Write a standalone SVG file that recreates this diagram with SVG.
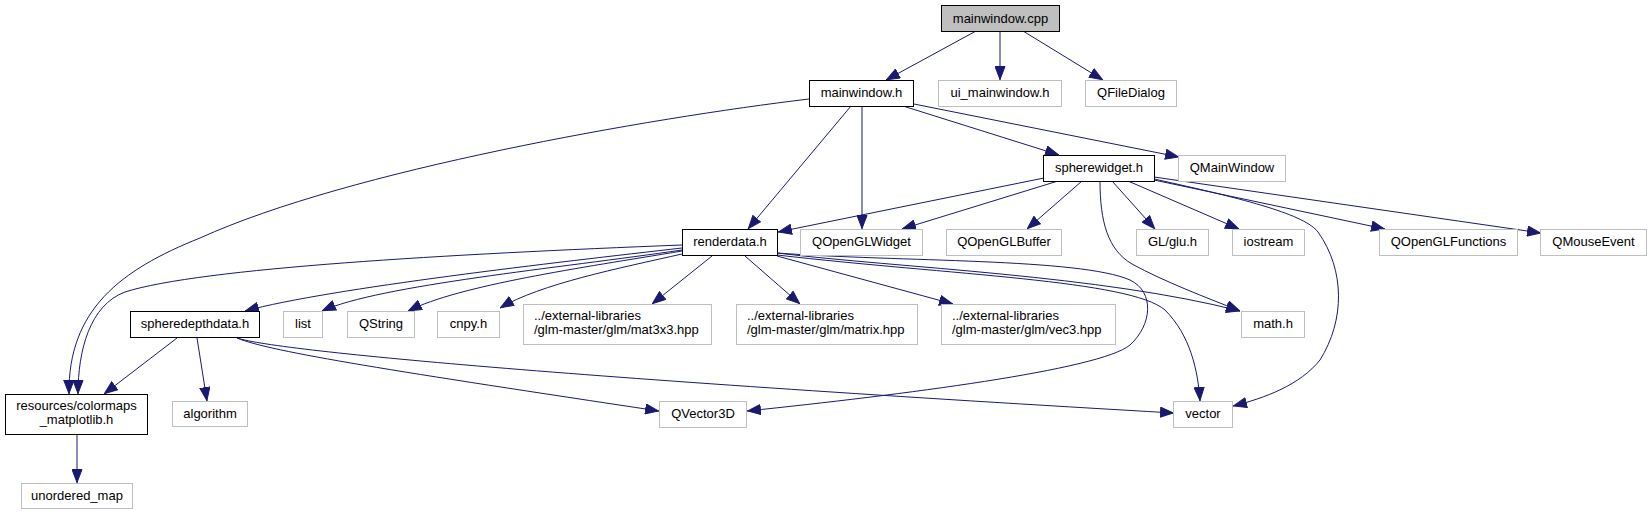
<svg xmlns="http://www.w3.org/2000/svg" width="1652" height="515" viewBox="0 0 1652 515">
<style>
.n rect{fill:#ffffff;stroke:#000000;stroke-width:1}
.n.ext rect{stroke:#bfbfbf}
.n.root rect{fill:#bfbfbf}
.n text{font-family:"Liberation Sans",Arial,Helvetica,sans-serif;font-size:13px;fill:#000000}
.c{text-anchor:middle}
#edges path{fill:none;stroke:#191970;stroke-width:1;marker-end:url(#ah)}
</style>
<defs>
<marker id="ah" markerUnits="userSpaceOnUse" viewBox="0 0 14 11" markerWidth="14" markerHeight="11" refX="14" refY="5.5" orient="auto">
<path d="M0.5,0.5 L13.5,5.5 L0.5,10.5 z" fill="#191970" stroke="#191970" stroke-width="1"/>
</marker>
</defs>
<rect width="1652" height="515" fill="#ffffff"/>
<g id="edges">
<path d="M976,31 L886,80"/>
<path d="M1000,31 L1000,80"/>
<path d="M1023,31 L1103,80"/>
<path d="M809,99 C650,118 350,170 200,238 C120,270 68,310 69,394"/>
<path d="M851,106 L748,229"/>
<path d="M862,106 L862,229"/>
<path d="M903,106 L1059,155"/>
<path d="M914,104 L1179,157"/>
<path d="M1044,178 L778,232"/>
<path d="M1058,181 L902,229"/>
<path d="M1082,181 L1027,229"/>
<path d="M1112,181 L1155,229"/>
<path d="M1128,181 L1239,229"/>
<path d="M1100,181 C1100,222 1108,250 1132,264 C1165,282 1205,297 1240,311"/>
<path d="M1154,179 C1250,200 1305,215 1318,232 C1345,270 1345,320 1320,360 C1300,385 1265,398 1233,406"/>
<path d="M1154,180 L1385,229"/>
<path d="M1154,177 L1541,233"/>
<path d="M682,248 C560,262 330,288 245,311"/>
<path d="M682,250 C560,268 380,285 322,311"/>
<path d="M682,251 C580,268 460,285 408,311"/>
<path d="M682,254 C620,268 540,284 500,308"/>
<path d="M682,245 C450,254 200,268 125,292 C90,305 78,350 78,394"/>
<path d="M712,256 L652,304"/>
<path d="M745,256 L800,304"/>
<path d="M777,256 L953,304"/>
<path d="M777,253 C900,268 1100,275 1240,311"/>
<path d="M777,255 C950,275 1130,280 1165,310 C1190,335 1198,370 1200,401"/>
<path d="M777,253 C900,262 1080,258 1130,280 C1155,292 1152,325 1130,345 C1100,370 900,395 747,411"/>
<path d="M177,338 L104,394"/>
<path d="M197,338 L207,401"/>
<path d="M237,338 C270,352 400,372 659,411"/>
<path d="M237,338 C280,352 600,380 1174,413"/>
<path d="M77,434 L77,483"/>
</g>
<g id="node_mainwindow_cpp" class="n root"><rect x="941.5" y="5.5" width="118" height="26"/><text class="c" x="1000.5" y="23">mainwindow.cpp</text></g>
<g id="node_mainwindow_h" class="n"><rect x="809.5" y="80.5" width="104" height="26"/><text class="c" x="861.5" y="97">mainwindow.h</text></g>
<g id="node_ui_mainwindow_h" class="n ext"><rect x="938.5" y="80.5" width="123" height="26"/><text class="c" x="1000" y="97">ui_mainwindow.h</text></g>
<g id="node_QFileDialog" class="n ext"><rect x="1085.5" y="80.5" width="91" height="26"/><text class="c" x="1131" y="97">QFileDialog</text></g>
<g id="node_spherewidget_h" class="n"><rect x="1043.5" y="155.5" width="111" height="26"/><text class="c" x="1099" y="172">spherewidget.h</text></g>
<g id="node_QMainWindow" class="n ext"><rect x="1178.5" y="155.5" width="107" height="26"/><text class="c" x="1232" y="172">QMainWindow</text></g>
<g id="node_renderdata_h" class="n"><rect x="682.5" y="229.5" width="95" height="26"/><text class="c" x="730" y="246">renderdata.h</text></g>
<g id="node_QOpenGLWidget" class="n ext"><rect x="800.5" y="229.5" width="122" height="26"/><text class="c" x="861.5" y="246">QOpenGLWidget</text></g>
<g id="node_QOpenGLBuffer" class="n ext"><rect x="946.5" y="229.5" width="115" height="26"/><text class="c" x="1004" y="246">QOpenGLBuffer</text></g>
<g id="node_GL_glu_h" class="n ext"><rect x="1136.5" y="229.5" width="72" height="26"/><text class="c" x="1172.5" y="246">GL/glu.h</text></g>
<g id="node_iostream" class="n ext"><rect x="1232.5" y="229.5" width="72" height="26"/><text class="c" x="1268.5" y="246">iostream</text></g>
<g id="node_QOpenGLFunctions" class="n ext"><rect x="1379.5" y="229.5" width="138" height="26"/><text class="c" x="1448.5" y="246">QOpenGLFunctions</text></g>
<g id="node_QMouseEvent" class="n ext"><rect x="1540.5" y="229.5" width="106" height="26"/><text class="c" x="1593.5" y="246">QMouseEvent</text></g>
<g id="node_spheredepthdata_h" class="n"><rect x="130.5" y="311.5" width="129" height="26"/><text class="c" x="195" y="328">spheredepthdata.h</text></g>
<g id="node_list" class="n ext"><rect x="283.5" y="311.5" width="39" height="26"/><text class="c" x="303" y="328">list</text></g>
<g id="node_QString" class="n ext"><rect x="347.5" y="311.5" width="67" height="26"/><text class="c" x="381" y="328">QString</text></g>
<g id="node_cnpy_h" class="n ext"><rect x="437.5" y="311.5" width="62" height="26"/><text class="c" x="468.5" y="328">cnpy.h</text></g>
<g id="node_mat3x3" class="n ext"><rect x="523.5" y="304.5" width="188" height="40"/><text x="534" y="320">../external-libraries</text><text x="534" y="334">/glm-master/glm/mat3x3.hpp</text></g>
<g id="node_matrix" class="n ext"><rect x="736.5" y="304.5" width="181" height="40"/><text x="747" y="320">../external-libraries</text><text x="747" y="334">/glm-master/glm/matrix.hpp</text></g>
<g id="node_vec3" class="n ext"><rect x="941.5" y="304.5" width="174" height="40"/><text x="952" y="320">../external-libraries</text><text x="952" y="334">/glm-master/glm/vec3.hpp</text></g>
<g id="node_math_h" class="n ext"><rect x="1241.5" y="311.5" width="63" height="26"/><text class="c" x="1273" y="328">math.h</text></g>
<g id="node_colormaps" class="n"><rect x="5.5" y="394.5" width="142" height="40"/><text class="c" x="76.5" y="410">resources/colormaps</text><text class="c" x="76.5" y="424">_matplotlib.h</text></g>
<g id="node_algorithm" class="n ext"><rect x="172.5" y="401.5" width="75" height="25"/><text class="c" x="210" y="418">algorithm</text></g>
<g id="node_QVector3D" class="n ext"><rect x="659.5" y="401.5" width="87" height="26"/><text class="c" x="703" y="418">QVector3D</text></g>
<g id="node_vector" class="n ext"><rect x="1173.5" y="401.5" width="59" height="26"/><text class="c" x="1203" y="418">vector</text></g>
<g id="node_unordered_map" class="n ext"><rect x="21.5" y="483.5" width="111" height="25"/><text class="c" x="77" y="500">unordered_map</text></g>
</svg>
